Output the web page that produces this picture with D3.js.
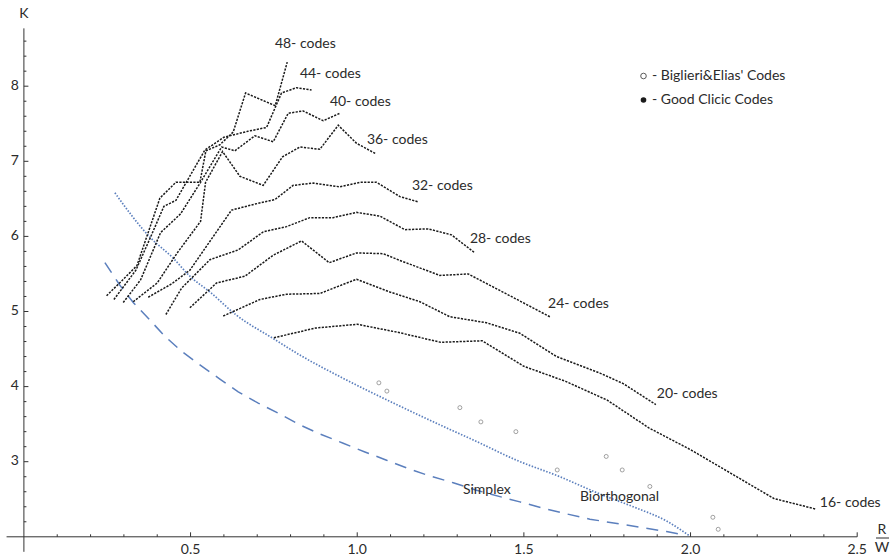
<!DOCTYPE html>
<html>
<head>
<meta charset="utf-8">
<script src="https://cdn.jsdelivr.net/npm/d3@7"></script>
<style>
  body { margin: 0; background: #fff; }
  text { font-family: Lato, "Open Sans", sans-serif; fill: #2b2b2b; }
</style>
</head>
<body>
<svg id="chart" width="892" height="557"></svg>
<script>
// K versus normalised rate R/W for cyclic code families of various sizes
const codes16 = [[0.75,4.65],[0.875,4.78],[1.0,4.83],[1.125,4.72],[1.25,4.59],[1.375,4.61],[1.5,4.27],[1.625,4.07],[1.75,3.82],[1.875,3.45],[2.0,3.16],[2.25,2.51],[2.375,2.37]];
const codes20 = [[0.598,4.94],[0.708,5.16],[0.788,5.23],[0.888,5.24],[0.998,5.43],[1.098,5.26],[1.188,5.13],[1.278,4.93],[1.388,4.85],[1.488,4.71],[1.598,4.40],[1.728,4.18],[1.798,4.04],[1.896,3.76]];
const codes24 = [[0.498,5.05],[0.578,5.38],[0.663,5.47],[0.748,5.75],[0.833,5.94],[0.916,5.65],[0.998,5.78],[1.078,5.77],[1.128,5.68],[1.248,5.48],[1.333,5.50],[1.458,5.21],[1.578,4.93]];
const codes28 = [[0.426,4.96],[0.473,5.31],[0.558,5.69],[0.643,5.82],[0.718,6.06],[0.788,6.13],[0.858,6.25],[0.928,6.25],[0.998,6.32],[1.068,6.27],[1.143,6.09],[1.213,6.10],[1.283,6.02],[1.353,5.78]];
const codes32 = [[0.373,5.19],[0.444,5.37],[0.498,5.55],[0.623,6.35],[0.693,6.43],[0.753,6.49],[0.808,6.68],[0.868,6.71],[0.948,6.66],[1.008,6.72],[1.058,6.72],[1.128,6.53],[1.183,6.46]];
const codes36 = [[0.328,5.13],[0.40,5.38],[0.46,5.78],[0.53,6.20],[0.545,6.72],[0.596,7.13],[0.648,6.80],[0.718,6.68],[0.776,7.06],[0.828,7.19],[0.888,7.16],[0.943,7.48],[0.998,7.24],[1.056,7.10]];
const codes40 = [[0.298,5.12],[0.35,5.42],[0.41,6.05],[0.47,6.30],[0.53,6.72],[0.593,7.19],[0.633,7.14],[0.693,7.34],[0.748,7.26],[0.793,7.64],[0.838,7.67],[0.898,7.54],[0.948,7.64]];
const codes44 = [[0.270,5.16],[0.336,5.55],[0.378,5.97],[0.42,6.40],[0.456,6.48],[0.543,7.15],[0.60,7.32],[0.672,7.40],[0.728,7.45],[0.773,7.91],[0.818,7.98],[0.863,7.95]];
const codes48 = [[0.248,5.21],[0.294,5.41],[0.339,5.61],[0.408,6.51],[0.456,6.72],[0.528,6.72],[0.546,7.14],[0.588,7.22],[0.628,7.39],[0.665,7.91],[0.754,7.74],[0.790,8.32]];

const familyNames = ["16- codes","20- codes","24- codes","28- codes","32- codes","36- codes","40- codes","44- codes","48- codes"];
const familyLabelAt = [[2.388,2.45],[1.899,3.89],[1.5725,5.10],[1.338,5.965],[1.164,6.67],[1.029,7.28],[0.918,7.78],[0.828,8.15],[0.753,8.55]];

// Simplex (dashed) and biorthogonal (dotted) reference curves
const simplexCurve = [[0.243,5.65],[0.288,5.35],[0.328,5.12],[0.373,4.91],[0.423,4.67],[0.473,4.47],[0.528,4.29],[0.588,4.10],[0.643,3.93],[0.703,3.78],[0.768,3.635],[0.828,3.49],[0.888,3.37],[0.958,3.245],[1.023,3.13],[1.088,3.02],[1.158,2.90],[1.218,2.81],[1.288,2.72],[1.358,2.62],[1.428,2.535],[1.488,2.465],[1.558,2.38],[1.628,2.305],[1.698,2.235],[1.788,2.17],[1.858,2.12],[1.928,2.07],[1.978,2.025]];
const biorthogonalCurve = [[0.273,6.58],[0.378,5.99],[0.448,5.71],[0.498,5.47],[0.558,5.26],[0.638,4.95],[0.748,4.64],[0.828,4.42],[0.958,4.11],[1.128,3.74],[1.278,3.43],[1.348,3.29],[1.478,3.02],[1.608,2.80],[1.728,2.57],[1.828,2.40],[1.928,2.21],[1.998,2.01]];

// Biglieri & Elias codes (open circles)
const biglieriElias = [[1.065,4.05],[1.089,3.94],[1.308,3.72],[1.371,3.53],[1.476,3.40],[1.600,2.89],[1.747,3.07],[1.795,2.89],[1.878,2.67],[2.067,2.26],[2.083,2.10]];

const xMajor = [0.5,1.0,1.5,2.0,2.5];
const yMajor = [3,4,5,6,7,8];

const svg = d3.select("#chart");
const x = d3.scaleLinear().domain([0, 2.5]).range([23.9, 857.2]);
const y = d3.scaleLinear().domain([2, 8]).range([536.8, 86.2]);

const axisColor = "#333";
const g = svg.append("g");

// axes lines
g.append("line").attr("x1", x(-0.052)).attr("x2", x(2.5)).attr("y1", y(2)).attr("y2", y(2))
  .attr("stroke", axisColor).attr("stroke-width", 1);
g.append("line").attr("x1", x(0)).attr("x2", x(0)).attr("y1", y(8.77)).attr("y2", y(1.8))
  .attr("stroke", axisColor).attr("stroke-width", 1);

// x ticks
const xMinor = d3.range(1, 26).map(i => i / 10).filter(v => !xMajor.some(m => Math.abs(m - v) < 1e-6));
g.selectAll(".xminor").data(xMinor).join("line")
  .attr("x1", d => x(d)).attr("x2", d => x(d)).attr("y1", y(2)).attr("y2", y(2) - 2.5)
  .attr("stroke", axisColor);
g.selectAll(".xmajor").data(xMajor).join("line")
  .attr("x1", d => x(d)).attr("x2", d => x(d)).attr("y1", y(2)).attr("y2", y(2) - 4.5)
  .attr("stroke", axisColor);
g.selectAll(".xlab").data(xMajor).join("text")
  .attr("x", d => x(d)).attr("y", y(2) + 14).attr("text-anchor", "middle")
  .attr("dominant-baseline", "middle").attr("font-size", 14)
  .text(d => d.toFixed(1));

// y ticks
const yMinor = d3.range(11, 44).map(i => i / 5).filter(v => !yMajor.some(m => Math.abs(m - v) < 1e-6));
g.selectAll(".yminor").data(yMinor).join("line")
  .attr("x1", x(0)).attr("x2", x(0) + 2.5).attr("y1", d => y(d)).attr("y2", d => y(d))
  .attr("stroke", axisColor);
g.selectAll(".ymajor").data(yMajor).join("line")
  .attr("x1", x(0)).attr("x2", x(0) + 4.5).attr("y1", d => y(d)).attr("y2", d => y(d))
  .attr("stroke", axisColor);
g.selectAll(".ylab").data(yMajor).join("text")
  .attr("x", x(0) - 5).attr("y", d => y(d)).attr("text-anchor", "end")
  .attr("dominant-baseline", "middle").attr("font-size", 14)
  .text(d => d);

// axis titles
g.append("text").attr("x", x(0)).attr("y", 14).attr("text-anchor", "middle")
  .attr("dominant-baseline", "middle").attr("font-size", 14).text("K");
g.append("text").attr("x", 882).attr("y", 530).attr("text-anchor", "middle")
  .attr("dominant-baseline", "middle").attr("font-size", 14).text("R");
g.append("line").attr("x1", 876).attr("x2", 889).attr("y1", 538).attr("y2", 538)
  .attr("stroke", "#2b2b2b").attr("stroke-width", 1);
g.append("text").attr("x", 882).attr("y", 548).attr("text-anchor", "middle")
  .attr("dominant-baseline", "middle").attr("font-size", 14).text("W");

const line = d3.line().x(d => x(d[0])).y(d => y(d[1]));
const blue = "#5b7fbd";

g.append("path").datum(simplexCurve).attr("d", line).attr("fill", "none")
  .attr("stroke", blue).attr("stroke-width", 1.5).attr("stroke-dasharray", "12,8");
g.append("path").datum(biorthogonalCurve).attr("d", d3.line().curve(d3.curveMonotoneX).x(d => x(d[0])).y(d => y(d[1])))
  .attr("fill", "none").attr("stroke", blue).attr("stroke-width", 1.7).attr("stroke-dasharray", "1.5,1.6");

const families = [codes16, codes20, codes24, codes28, codes32, codes36, codes40, codes44, codes48];
g.selectAll(".family").data(families).join("path")
  .attr("d", line).attr("fill", "none").attr("stroke", "#1a1a1a")
  .attr("stroke-width", 1.5).attr("stroke-dasharray", "2.2,1.3");

g.selectAll(".famlab").data(familyNames).join("text")
  .attr("x", (d, i) => x(familyLabelAt[i][0])).attr("y", (d, i) => y(familyLabelAt[i][1]))
  .attr("dominant-baseline", "middle").attr("font-size", 14).text(d => d);

g.append("text").attr("x", x(1.317)).attr("y", y(2.623)).attr("dominant-baseline", "middle")
  .attr("font-size", 14).text("Simplex");
g.append("text").attr("x", x(1.668)).attr("y", y(2.53)).attr("dominant-baseline", "middle")
  .attr("font-size", 14).text("Biorthogonal");

g.selectAll(".be").data(biglieriElias).join("circle")
  .attr("cx", d => x(d[0])).attr("cy", d => y(d[1])).attr("r", 2)
  .attr("fill", "none").attr("stroke", "#8a8a8a").attr("stroke-width", 0.8);

// legend
const legend = g.append("g");
legend.append("circle").attr("cx", 643.5).attr("cy", 76).attr("r", 2.8)
  .attr("fill", "#fff").attr("stroke", "#333").attr("stroke-width", 0.8);
legend.append("text").attr("x", 652).attr("y", 76).attr("dominant-baseline", "middle")
  .attr("font-size", 14).text("- Biglieri&Elias' Codes");
legend.append("circle").attr("cx", 643.5).attr("cy", 100).attr("r", 2.8).attr("fill", "#1a1a1a");
legend.append("text").attr("x", 652).attr("y", 100).attr("dominant-baseline", "middle")
  .attr("font-size", 14).text("- Good Clicic Codes");
</script>
</body>
</html>
